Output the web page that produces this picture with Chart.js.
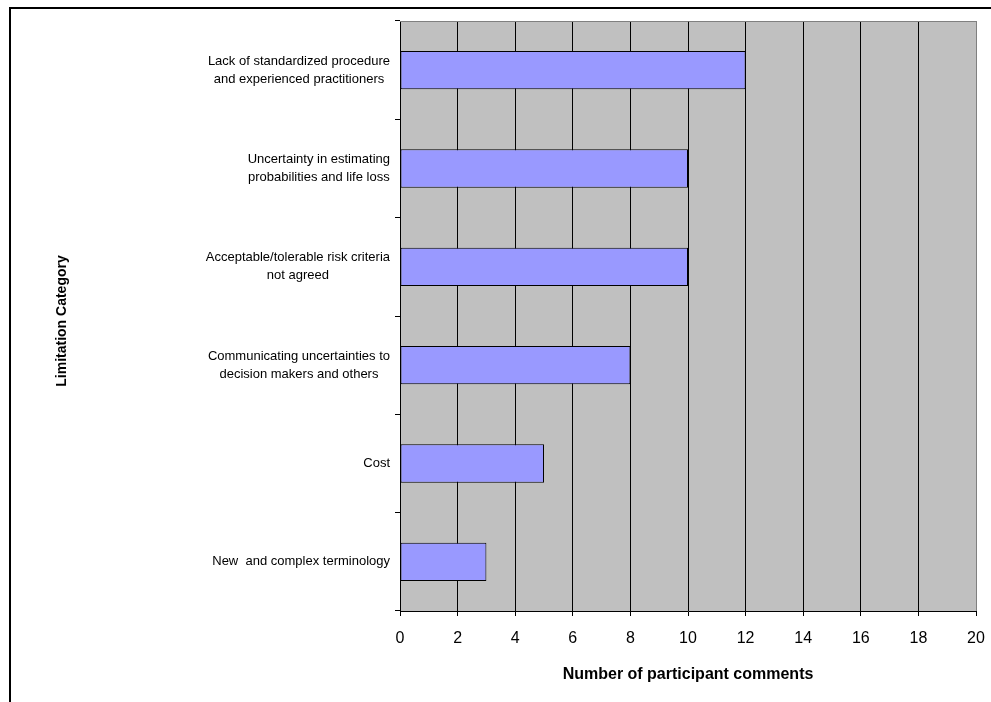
<!DOCTYPE html>
<html>
<head>
<meta charset="utf-8">
<script src="https://cdn.jsdelivr.net/npm/chart.js@4/dist/chart.umd.min.js"></script>
<style>
  body { margin: 0; background: #fff; }
  #wrap { width: 991px; height: 702px; position: relative; }
</style>
</head>
<body>
<div id="wrap"><canvas id="myChart" width="991" height="702"></canvas></div>
<script>
// categories, top to bottom
var categories = [
  ["Lack of standardized procedure", "and experienced practitioners"],
  ["Uncertainty in estimating", "probabilities and life loss"],
  ["Acceptable/tolerable risk criteria", "not agreed"],
  ["Communicating uncertainties to", "decision makers and others"],
  ["Cost"],
  ["New  and complex terminology"]
];
var comments = [12, 10, 10, 8, 5, 3];
var xTicks = [0, 2, 4, 6, 8, 10, 12, 14, 16, 18, 20];
var yTitle = 'Limitation Category';
var xTitle = 'Number of participant comments';

var FONT = 'Liberation Sans, Arial, sans-serif';

// gray plot area, gray top/right border, the outer frame
var backdrop = {
  id: 'backdrop',
  beforeDraw: function (chart) {
    var ctx = chart.ctx, a = chart.chartArea;
    ctx.save();
    ctx.fillStyle = '#C0C0C0';
    ctx.fillRect(a.left, a.top, a.right - a.left, a.bottom - a.top);
    ctx.restore();
  },
  afterDraw: function (chart) {
    var ctx = chart.ctx, a = chart.chartArea;
    ctx.save();
    ctx.strokeStyle = '#808080';
    ctx.lineWidth = 1;
    ctx.beginPath();
    ctx.moveTo(a.left, a.top + 0.5);
    ctx.lineTo(a.right + 0.5, a.top + 0.5);
    ctx.lineTo(a.right + 0.5, a.bottom);
    ctx.stroke();
    // outer frame
    ctx.strokeStyle = '#000';
    ctx.lineWidth = 2;
    ctx.beginPath();
    ctx.moveTo(10, 702);
    ctx.lineTo(10, 8);
    ctx.lineTo(991, 8);
    ctx.stroke();
    ctx.restore();
  }
};

// category labels: each block right-aligned to the axis, lines centred inside it
// plus the rotated y title
var catLabels = {
  id: 'catLabels',
  afterDraw: function (chart) {
    var ctx = chart.ctx, y = chart.scales.y;
    var lineH = 18;
    var rightEdge = y.right - 10;
    ctx.save();
    ctx.font = '13px ' + FONT;
    ctx.fillStyle = '#000';
    ctx.textAlign = 'center';
    ctx.textBaseline = 'middle';
    categories.forEach(function (lines, i) {
      var yc = y.getPixelForTick(i);
      var widest = 0;
      lines.forEach(function (l) { widest = Math.max(widest, ctx.measureText(l).width); });
      var cx = rightEdge - widest / 2;
      lines.forEach(function (l, j) {
        ctx.fillText(l, cx, yc + (j - (lines.length - 1) / 2) * lineH);
      });
    });
    // y title
    ctx.font = 'bold 14px ' + FONT;
    ctx.translate(62, (y.top + y.bottom) / 2 + 5);
    ctx.rotate(-Math.PI / 2);
    ctx.fillText(yTitle, 0, 0);
    ctx.restore();
  }
};

var canvas = document.getElementById("myChart");
new Chart(canvas, {
  type: 'bar',
  data: {
    labels: categories,
    datasets: [{
      data: comments,
      backgroundColor: '#9999FF',
      borderColor: '#000',
      borderWidth: 1,
      borderSkipped: false,
      barPercentage: 0.39,
      categoryPercentage: 1.0
    }]
  },
  options: {
    indexAxis: 'y',
    responsive: false,
    animation: false,
    layout: { padding: { left: 0, top: 21, right: 15, bottom: 0 } },
    plugins: {
      legend: { display: false },
      tooltip: { enabled: false }
    },
    scales: {
      x: {
        min: 0,
        max: 20,
        afterBuildTicks: function (scale) {
          scale.ticks = xTicks.map(function (v) { return { value: v }; });
        },
        afterFit: function (scale) {
          scale.height = 91;
          scale.paddingLeft = 0;
          scale.paddingRight = 0;
        },
        grid: {
          color: function (c) { return c.index === xTicks.length - 1 ? '#808080' : '#000'; },
          lineWidth: 1,
          tickLength: 5,
          tickColor: '#000'
        },
        border: { display: true, color: '#000', width: 1 },
        ticks: {
          color: '#000',
          font: { family: FONT, size: 16 },
          padding: 13,
          maxRotation: 0
        },
        title: {
          display: true,
          text: xTitle,
          color: '#000',
          font: { family: FONT, size: 16, weight: 'bold' },
          padding: { top: 0, bottom: 18 }
        }
      },
      y: {
        afterFit: function (scale) { scale.width = 400; },
        grid: {
          offset: true,
          drawOnChartArea: false,
          tickLength: 5,
          tickColor: '#000',
          color: '#000'
        },
        border: { display: true, color: '#000', width: 1 },
        ticks: { display: false },
        title: { display: false }
      }
    }
  },
  plugins: [backdrop, catLabels]
});
</script>
</body>
</html>
